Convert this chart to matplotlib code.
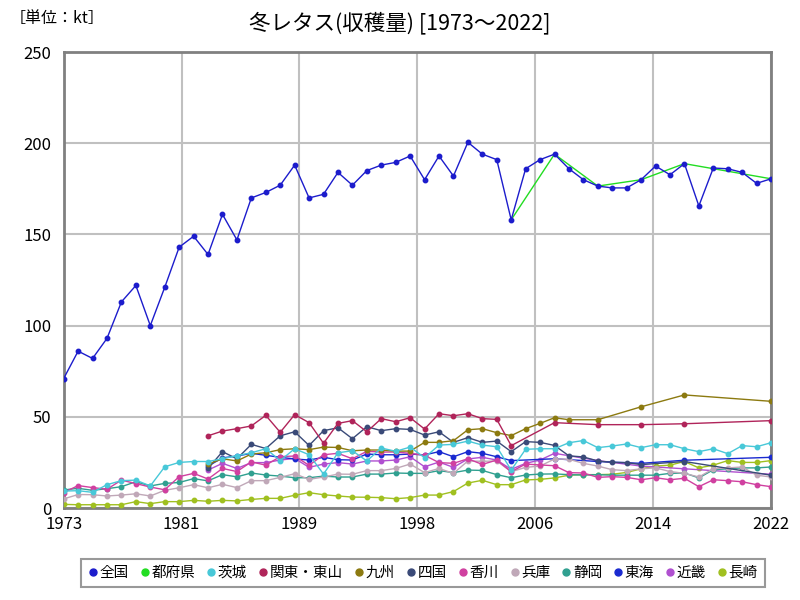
import numpy as np
import matplotlib
matplotlib.use('Agg')
import matplotlib.pyplot as plt
from matplotlib.lines import Line2D

plt.rcParams['font.family'] = ['Noto Sans CJK JP', 'DejaVu Sans']

N = None
years = list(range(1973, 2023))

zenkoku = [71, 86, 82, 93, 113, 122, 100, 121, 143, 149,
           139, 161, 147, 170, 173, 177, 188, 170, 172, 184,
           177, 185, 188, 189.5, 193, 180, 193, 182, 200.5, 194,
           191, 158, 186, 191, 194, 186, 180, 176.5, 175.5, 175.5,
           180, 187.5, 182.7, 188.8, 165.6, 186.4, 186, 184, 178, 180.5]
todofuken = [N] * 31 + [158, N, N, 194, N, N, 176.5, N, N, 180, N, N, 188.8, N, N, N, N, N, 180.5]
ibaraki = [9.3, 9.5, 8.6, 12.8, 15, 15.3, 12.1, 22.6, 25, 25.5,
           25.5, 27, 28.7, 30.3, 32.5, 26, 32.5, 29.2, 18.6, 30.3,
           31.4, 25.8, 32.9, 31.1, 33.4, 27.6, 34.5, 34.9, 36.7, 34.5,
           33.6, 20.8, 32.2, 32.5, 32.5, 35.8, 37, 33.1, 34, 35.1,
           33.1, 34.7, 34.7, 32.5, 30.9, 32.5, 29.8, 34.2, 33.6, 35.8]
kanto = [N] * 10 + [39.6, 42.2, 43.5, 45, 50.8, 41.5, 51.2, 46.8, 35.5, 46.4,
                    47.9, 41.8, 49, 47.3, 49.5, 43.3, 51.7, 50.6, 51.7, 49, 48.6, 34.2] + \
        [N, N, 46.8, N, N, 45.7, N, N, 45.7, N, N, 46.2, N, N, N, N, N, 47.9]
kyushu = [N] * 10 + [24, 27, 25.8, 29.6, 30.3, 32, 32.5, 32, 33.4, 33.2,
                     31.4, 31.8, 31.8, 31.2, 31.2, 36, 36, 36.9, 42.9, 43.5,
                     41.3, 39.7, 43.5, 46.4, 49.5, 48.4] + \
         [N, 48.4, N, N, 55.5, N, N, 62, N, N, N, N, N, 58.5]
shikoku = [N] * 10 + [21.7, 30.9, 27, 34.9, 32.6, 39.6, 41.8, 34.3, 42.4, 44,
                      38, 44.6, 42.4, 43.5, 43.1, 40, 41.8, 36, 38.6, 36,
                      36.7, 30.9, 36.4, 36, 34.3, 28.6, 28, 25.8, 25, 24.9, 23.8] + \
          [N, N, 25.5, N, N, N, N, N, 18]
kagawa = [8.5, 12.3, 11.2, 10.3, 15.3, 13.4, 11.5, 10, 17.2, 19,
          15.9, 21.7, 20, 25.3, 23.5, 28.2, 28.5, 23.4, 29.2, 30,
          27, 31.1, 30.7, 30.7, 30, 28.9, 24.9, 24.5, 27, 23.9,
          26.3, 19.9, 24.1, 23.6, 23.2, 19.4, 19.2, 16.8, 17.2, 16.8,
          15.5, 16.6, 15.5, 16.3, 11.7, 15.5, 15, 14.4, 12.8, 11.7]
hyogo = [5, 7.4, 7.3, 6.6, 7.1, 7.8, 6.6, 9.7, 11.1, 12.8,
         11.1, 13, 11.2, 15, 15, 16.8, 18.8, 15.7, 17, 18.6,
         18.5, 20.5, 20.5, 21.7, 24.1, 19.4, 21.7, 19, 25.8, 25.6,
         25.8, 19.9, 22.3, 23, 26.9, 26.7, 24.5, 23, 21, 20.5,
         21.5, 22, 20, 19, 17, 21.5, 22, 22.5, 18, 17]
shizuoka = [9.9, 10.8, 9.7, 10.6, 11.7, 14.4, 12.1, 13.5, 14, 16.1,
            14.9, 18.3, 17.1, 19.2, 18.1, 17.5, 16.6, 16.6, 17.5, 17,
            17, 18.6, 18.6, 19.2, 19, 19, 20.5, 19.4, 20.8, 20.6,
            18.3, 16.6, 18.1, 18.6, 18.7, 18.3, 18.1, 18.3, 18, 18,
            18, 18, 19, 19.2, 16.5, 21, 21.5, 22, 22, 22.5]
tokai = [N] * 10 + [23, 27.5, 28.5, 30, 28.9, 27.8, 26.9, 26.3, 27.8, 26.5,
                    26.3, 29.6, 29.2, 29.2, 29.6, 29.1, 30.9, 28.1, 30.9, 30, 28.1, 26] + \
        [N, N, 27, N, N, 25.5, N, N, 24.5, N, N, 26.2, N, N, N, N, N, 27.8]
kinki = [N] * 10 + [20.8, 24.5, 21.7, 24.9, 24.9, 26.3, 27.2, 22.3, 24.1, 24.9,
                    24.1, 25.8, 25.8, 26.3, 28.1, 22.6, 25.2, 22.3, 26.9, 27.8,
                    26.3, 21.2, 24.5, 26.3, 30] + \
        [N, N, 26, N, N, 23, N, N, 21.5, N, N, N, N, N, 18.5]
nagasaki = [2, 1.8, 1.8, 1.8, 1.8, 3.5, 2.4, 3.5, 3.5, 4.2,
            3.7, 4.2, 3.9, 4.7, 5.3, 5.3, 7, 8.4, 7.3, 6.6,
            6, 5.9, 5.7, 5.1, 5.7, 7.1, 7.1, 9, 13.7, 15.2,
            12.8, 12.8, 15.4, 15.7, 16.5, 18, 18.3, 18.3, 18.5, 19.5,
            21.5, 23, 23.5, 25.5, 22, 23.5, 26, 25, 25, 26]

names = ['全国', '都府県', '茨城', '関東・東山', '九州', '四国', '香川', '兵庫', '静岡', '東海', '近畿', '長崎']
series = [zenkoku, todofuken, ibaraki, kanto, kyushu, shikoku, kagawa, hyogo, shizuoka, tokai, kinki, nagasaki]
colors = ['#1c1ccc', '#22dd22', '#48c8d8', '#b0245a', '#8c7a10', '#3a4a78',
          '#d040a0', '#c0a8b8', '#30a090', '#1a2ad0', '#b050d0', '#a0c020']

fig = plt.figure(figsize=(8, 6), dpi=100)
ax = fig.add_axes([0.0796, 0.1533, 0.8842, 0.76])

for i in range(len(names) - 1, -1, -1):
    x = np.array(years, dtype=float)
    y = np.array([np.nan if v is None else v for v in series[i]], dtype=float)
    m = ~np.isnan(y)
    if names[i] == '都府県':
        ax.plot(x[m], y[m], color=colors[i], lw=1.0, zorder=2)
    else:
        ax.plot(x[m], y[m], color=colors[i], lw=1.0, marker='o', markersize=3.2,
                zorder=3 + (len(names) - i) * 0.01)

ax.set_xlim(1973, 2022)
ax.set_ylim(0, 250)
xt = np.linspace(1973, 2022, 7)
ax.set_xticks(xt)
ax.set_xticklabels([str(int(round(v))) for v in xt])
ax.set_yticks([0, 50, 100, 150, 200, 250])
ax.tick_params(length=0, labelsize=12)
ax.tick_params(axis='x', pad=6)
ax.tick_params(axis='y', pad=9)
ax.grid(True, color='#c0c0c0', lw=1.5)
ax.set_axisbelow(True)
for s in ax.spines.values():
    s.set_color('#808080')
    s.set_linewidth(2)

fig.text(0.5, 0.962, '冬レタス(収穫量) [1973～2022]', ha='center', va='center', fontsize=15.5)
fig.text(0.012, 0.97, '［単位：kt］', ha='left', va='center', fontsize=11.5)

handles = [Line2D([], [], linestyle='none', marker='o', markersize=5, color=c) for c in colors]
leg = fig.legend(handles, names, loc='center', bbox_to_anchor=(0.529, 0.045), ncol=12,
                 handlelength=0.6, handletextpad=0.15, columnspacing=0.8, fontsize=10.5,
                 frameon=True, fancybox=False, borderpad=0.5)
leg.get_frame().set_edgecolor('#808080')
leg.get_frame().set_linewidth(1.5)

fig.savefig('out.png', dpi=100)
